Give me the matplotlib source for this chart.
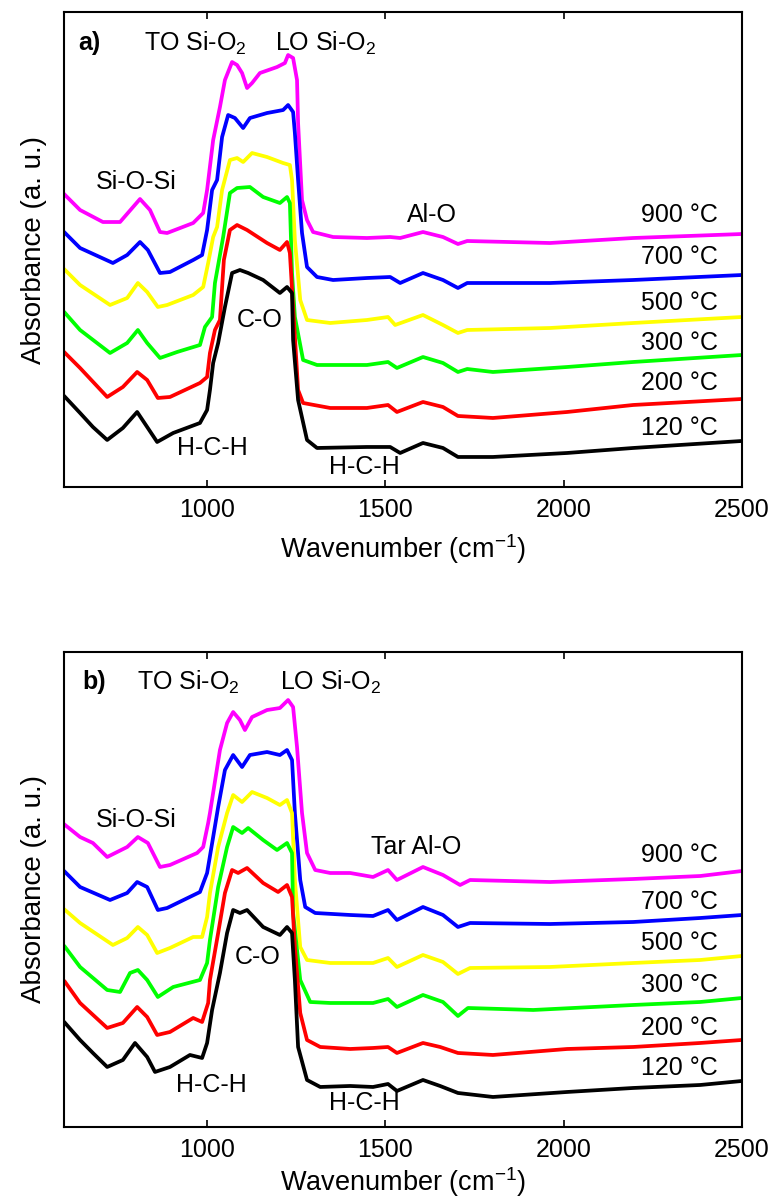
import matplotlib
matplotlib.use('Agg')
import matplotlib.pyplot as plt

plt.rcParams['font.family'] = ['Liberation Sans', 'DejaVu Sans']
plt.rcParams['mathtext.fontset'] = 'custom'
plt.rcParams['mathtext.rm'] = 'Liberation Sans'
plt.rcParams['mathtext.it'] = 'Liberation Sans:italic'
plt.rcParams['mathtext.bf'] = 'Liberation Sans:bold'

# temperatures (top to bottom) and their colours
temps = ['900 °C', '700 °C', '500 °C', '300 °C', '200 °C', '120 °C']
colors = ['#FF00FF', '#0000FF', '#FFFF00', '#00FF00', '#FF0000', '#000000']

# ---------------- panel a) spectra (wavenumber, offset absorbance) ----------------
a_wn_900 = [603, 645, 709, 757, 813, 841, 869, 889, 962, 990, 1001, 1018, 1037, 1051, 1071, 1085, 1099, 1113,
            1127, 1149, 1197, 1219, 1228, 1242, 1253, 1256, 1267, 1281, 1298, 1354, 1449, 1514, 1542, 1606,
            1662, 1704, 1730, 1962, 2195, 2500]
a_abs_900 = [2.92, 2.77, 2.65, 2.65, 2.88, 2.77, 2.55, 2.54, 2.64, 2.74, 2.97, 3.47, 3.80, 4.07, 4.25, 4.22, 4.14, 3.99,
             4.04, 4.14, 4.20, 4.24, 4.32, 4.29, 4.07, 3.64, 2.87, 2.67, 2.55, 2.50, 2.49, 2.50, 2.49, 2.55,
             2.50, 2.43, 2.46, 2.44, 2.49, 2.53]

a_wn_700 = [603, 645, 737, 777, 813, 835, 869, 897, 962, 987, 1001, 1015, 1029, 1043, 1060, 1079, 1102, 1121,
            1169, 1214, 1228, 1242, 1247, 1256, 1267, 1281, 1309, 1354, 1449, 1514, 1542, 1606, 1662, 1704,
            1730, 1962, 2195, 2500]
a_abs_700 = [2.54, 2.39, 2.24, 2.32, 2.45, 2.37, 2.14, 2.15, 2.27, 2.32, 2.57, 2.97, 3.07, 3.50, 3.72, 3.69, 3.59, 3.69,
             3.74, 3.77, 3.82, 3.75, 3.54, 3.07, 2.54, 2.20, 2.10, 2.07, 2.09, 2.10, 2.04, 2.14, 2.07, 1.99,
             2.04, 2.04, 2.07, 2.12]

a_wn_500 = [603, 645, 729, 777, 807, 833, 863, 889, 962, 990, 1004, 1018, 1029, 1043, 1065, 1085, 1102, 1127,
            1169, 1214, 1233, 1239, 1247, 1262, 1281, 1346, 1449, 1508, 1528, 1606, 1662, 1704, 1730, 1962,
            2195, 2500]
a_abs_500 = [2.17, 2.02, 1.82, 1.89, 2.04, 1.95, 1.80, 1.82, 1.92, 2.00, 2.24, 2.50, 2.60, 2.97, 3.27, 3.29, 3.25, 3.34,
             3.30, 3.24, 3.22, 3.07, 2.47, 1.87, 1.67, 1.64, 1.67, 1.70, 1.62, 1.72, 1.62, 1.54, 1.57, 1.59,
             1.64, 1.70]

a_wn_300 = [603, 645, 729, 777, 807, 833, 869, 917, 981, 995, 1015, 1023, 1046, 1065, 1085, 1121, 1158, 1205,
            1225, 1233, 1239, 1247, 1270, 1309, 1449, 1508, 1533, 1606, 1662, 1704, 1730, 1802, 2010, 2195,
            2500]
a_abs_300 = [1.74, 1.57, 1.34, 1.44, 1.57, 1.44, 1.29, 1.35, 1.42, 1.60, 1.70, 2.04, 2.50, 2.94, 2.99, 3.00, 2.90, 2.84,
             2.90, 2.84, 2.14, 1.70, 1.27, 1.22, 1.22, 1.25, 1.19, 1.30, 1.24, 1.15, 1.18, 1.15, 1.20, 1.25,
             1.32]

a_wn_200 = [603, 645, 721, 765, 805, 833, 863, 897, 981, 1001, 1009, 1023, 1037, 1048, 1065, 1085, 1113, 1169,
            1205, 1225, 1233, 1242, 1256, 1270, 1346, 1449, 1508, 1533, 1606, 1662, 1704, 1802, 2010, 2195,
            2500]
a_abs_200 = [1.34, 1.19, 0.90, 1.00, 1.15, 1.07, 0.89, 0.90, 1.04, 1.10, 1.34, 1.57, 1.67, 2.27, 2.57, 2.62, 2.57, 2.44,
             2.37, 2.45, 2.34, 1.80, 0.97, 0.84, 0.79, 0.79, 0.82, 0.75, 0.85, 0.80, 0.71, 0.69, 0.75, 0.82,
             0.88]

a_wn_120 = [603, 645, 681, 721, 765, 805, 833, 861, 906, 981, 1001, 1009, 1018, 1032, 1051, 1071, 1093, 1116,
            1158, 1205, 1225, 1239, 1242, 1256, 1281, 1309, 1449, 1514, 1542, 1606, 1662, 1704, 1802, 2010,
            2195, 2500]
a_abs_120 = [0.90, 0.74, 0.60, 0.47, 0.59, 0.75, 0.60, 0.45, 0.54, 0.64, 0.77, 0.97, 1.24, 1.44, 1.80, 2.14, 2.17, 2.14,
             2.07, 1.94, 2.00, 1.94, 1.47, 0.87, 0.47, 0.39, 0.40, 0.40, 0.34, 0.44, 0.39, 0.30, 0.30, 0.34,
             0.39, 0.46]

# ---------------- panel b) spectra ----------------
b_wn_900 = [603, 645, 681, 721, 777, 807, 835, 869, 897, 973, 990, 1004, 1009, 1037, 1057, 1074, 1093, 1107,
            1127, 1169, 1205, 1228, 1242, 1253, 1267, 1281, 1304, 1346, 1402, 1466, 1508, 1533, 1606, 1662,
            1710, 1738, 1962, 2195, 2383, 2500]
b_abs_900 = [3.02, 2.90, 2.84, 2.70, 2.80, 2.90, 2.84, 2.60, 2.62, 2.74, 2.80, 3.04, 3.14, 3.77, 4.04, 4.15, 4.07, 3.97,
             4.10, 4.17, 4.19, 4.27, 4.20, 3.80, 3.14, 2.74, 2.57, 2.54, 2.54, 2.50, 2.57, 2.47, 2.60, 2.52,
             2.42, 2.47, 2.45, 2.48, 2.51, 2.56]

b_wn_700 = [603, 645, 729, 777, 805, 833, 863, 889, 981, 1001, 1018, 1032, 1051, 1074, 1099, 1121, 1169, 1205,
            1225, 1239, 1247, 1262, 1276, 1304, 1402, 1466, 1508, 1533, 1606, 1662, 1704, 1738, 1962, 2195,
            2383, 2500]
b_abs_700 = [2.55, 2.40, 2.27, 2.34, 2.45, 2.40, 2.17, 2.19, 2.35, 2.54, 2.90, 3.20, 3.57, 3.72, 3.60, 3.72, 3.75, 3.72,
             3.77, 3.67, 3.14, 2.47, 2.20, 2.14, 2.12, 2.11, 2.17, 2.07, 2.20, 2.12, 2.00, 2.04, 2.03, 2.05,
             2.09, 2.12]

b_wn_500 = [603, 645, 737, 777, 807, 833, 861, 897, 962, 987, 1001, 1009, 1032, 1057, 1074, 1099, 1127, 1169,
            1205, 1225, 1239, 1247, 1262, 1281, 1346, 1466, 1508, 1533, 1606, 1662, 1704, 1738, 1962, 2195,
            2383, 2500]
b_abs_500 = [2.17, 2.04, 1.82, 1.89, 2.00, 1.92, 1.74, 1.79, 1.90, 1.90, 2.10, 2.34, 2.80, 3.14, 3.32, 3.25, 3.35, 3.29,
             3.22, 3.27, 3.14, 2.47, 1.80, 1.67, 1.64, 1.64, 1.69, 1.60, 1.72, 1.65, 1.53, 1.59, 1.60, 1.64,
             1.67, 1.71]

b_wn_300 = [603, 645, 721, 757, 785, 807, 833, 863, 906, 981, 1001, 1009, 1032, 1057, 1074, 1099, 1116, 1158,
            1197, 1225, 1239, 1242, 1262, 1290, 1346, 1466, 1508, 1533, 1606, 1662, 1704, 1732, 1915, 2195,
            2383, 2500]
b_abs_300 = [1.80, 1.60, 1.37, 1.35, 1.54, 1.57, 1.47, 1.30, 1.40, 1.47, 1.64, 1.87, 2.40, 2.80, 3.00, 2.94, 2.99, 2.87,
             2.77, 2.84, 2.74, 2.14, 1.47, 1.25, 1.24, 1.24, 1.28, 1.20, 1.32, 1.25, 1.11, 1.19, 1.17, 1.22,
             1.25, 1.29]

b_wn_200 = [603, 645, 721, 765, 805, 833, 861, 897, 962, 987, 1004, 1009, 1032, 1051, 1071, 1088, 1113, 1158,
            1200, 1225, 1239, 1247, 1262, 1281, 1318, 1402, 1466, 1508, 1533, 1606, 1654, 1704, 1802, 2010,
            2195, 2383, 2500]
b_abs_200 = [1.45, 1.24, 0.99, 1.04, 1.20, 1.10, 0.92, 0.95, 1.09, 1.05, 1.24, 1.47, 1.94, 2.34, 2.57, 2.54, 2.59, 2.44,
             2.35, 2.42, 2.30, 1.80, 1.14, 0.87, 0.80, 0.78, 0.79, 0.80, 0.74, 0.84, 0.80, 0.74, 0.72, 0.78,
             0.80, 0.84, 0.87]

b_wn_120 = [603, 645, 681, 721, 765, 799, 833, 855, 897, 953, 987, 1001, 1015, 1037, 1057, 1074, 1093, 1113,
            1158, 1205, 1225, 1239, 1247, 1256, 1281, 1318, 1402, 1466, 1508, 1533, 1606, 1654, 1704, 1802,
            2010, 2195, 2383, 2500]
b_abs_120 = [1.04, 0.87, 0.74, 0.60, 0.67, 0.84, 0.70, 0.55, 0.60, 0.72, 0.69, 0.84, 1.17, 1.54, 1.94, 2.17, 2.14, 2.17,
             2.00, 1.92, 2.00, 1.94, 1.47, 0.80, 0.47, 0.40, 0.41, 0.40, 0.43, 0.36, 0.47, 0.41, 0.34, 0.30,
             0.35, 0.39, 0.42, 0.46]

panel_a = [(a_wn_900, a_abs_900), (a_wn_700, a_abs_700), (a_wn_500, a_abs_500),
           (a_wn_300, a_abs_300), (a_wn_200, a_abs_200), (a_wn_120, a_abs_120)]
panel_b = [(b_wn_900, b_abs_900), (b_wn_700, b_abs_700), (b_wn_500, b_abs_500),
           (b_wn_300, b_abs_300), (b_wn_200, b_abs_200), (b_wn_120, b_abs_120)]

# label heights for the temperature tags
a_temp_y = [2.72, 2.30, 1.84, 1.44, 1.04, 0.59]
b_temp_y = [2.72, 2.25, 1.84, 1.42, 0.99, 0.59]

FS = 18

fig = plt.figure(figsize=(7.73, 12.03), dpi=100)
ax_a = fig.add_axes([0.0828, 0.5952, 0.8771, 0.3948])
ax_b = fig.add_axes([0.0828, 0.0632, 0.8771, 0.3948])


def style_axes(ax, xpad):
    ax.set_xlim(600, 2500)
    ax.set_ylim(0, 4.75)
    ax.set_yticks([])
    ax.set_xticks([1000, 1500, 2000, 2500])
    ax.tick_params(axis='x', direction='in', top=True, length=5, width=1.2,
                   labelsize=FS, pad=8)
    for s in ax.spines.values():
        s.set_linewidth(1.5)
    ax.set_xlabel('Wavenumber (cm$^{\\mathregular{-1}}$)', fontsize=FS + 1.5, labelpad=xpad)
    ax.set_ylabel('Absorbance (a. u.)', fontsize=FS + 2, labelpad=12)


for ax, spectra, ty, xpad in [(ax_a, panel_a, a_temp_y, 7), (ax_b, panel_b, b_temp_y, 2)]:
    for (wn, ab), c, t, y in zip(spectra, colors, temps, ty):
        ax.plot(wn, ab, color=c, lw=2.7)
        ax.text(2433, y, t, fontsize=FS, ha='right', va='center')
    style_axes(ax, xpad)

# panel a annotations
ax_a.text(639, 4.44, 'a)', fontsize=FS, fontweight='bold', ha='left', va='center')
ax_a.text(967, 4.44, 'TO Si-O$_\\mathregular{2}$', fontsize=FS, ha='center', va='center')
ax_a.text(1334, 4.44, 'LO Si-O$_\\mathregular{2}$', fontsize=FS, ha='center', va='center')
ax_a.text(802, 3.05, 'Si-O-Si', fontsize=FS, ha='center', va='center')
ax_a.text(1631, 2.72, 'Al-O', fontsize=FS, ha='center', va='center')
ax_a.text(1149, 1.67, 'C-O', fontsize=FS, ha='center', va='center')
ax_a.text(1015, 0.39, 'H-C-H', fontsize=FS, ha='center', va='center')
ax_a.text(1441, 0.20, 'H-C-H', fontsize=FS, ha='center', va='center')

# panel b annotations
ax_b.text(650, 4.45, 'b)', fontsize=FS, fontweight='bold', ha='left', va='center')
ax_b.text(948, 4.45, 'TO Si-O$_\\mathregular{2}$', fontsize=FS, ha='center', va='center')
ax_b.text(1348, 4.45, 'LO Si-O$_\\mathregular{2}$', fontsize=FS, ha='center', va='center')
ax_b.text(802, 3.07, 'Si-O-Si', fontsize=FS, ha='center', va='center')
ax_b.text(1587, 2.80, 'Tar Al-O', fontsize=FS, ha='center', va='center')
ax_b.text(1144, 1.70, 'C-O', fontsize=FS, ha='center', va='center')
ax_b.text(1012, 0.42, 'H-C-H', fontsize=FS, ha='center', va='center')
ax_b.text(1441, 0.24, 'H-C-H', fontsize=FS, ha='center', va='center')

fig.savefig('out.png', dpi=100)
